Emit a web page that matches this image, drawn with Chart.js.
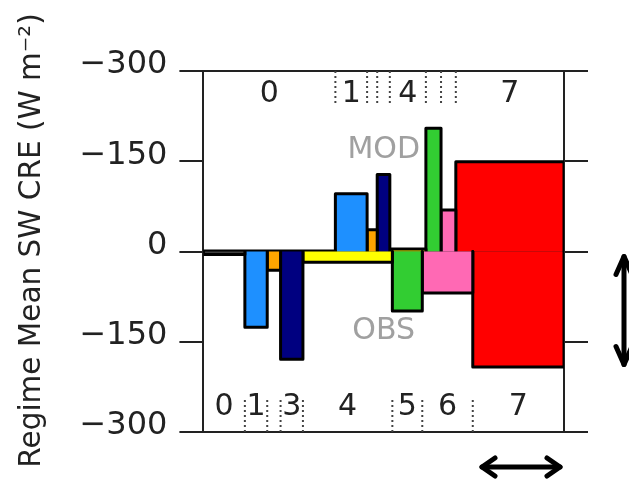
<!DOCTYPE html>
<html>
<head>
<meta charset="utf-8">
<title>Regime Mean SW CRE</title>
<script src="https://cdn.jsdelivr.net/npm/chart.js@4.4.0/dist/chart.umd.min.js"></script>
<style>
  html, body { margin: 0; padding: 0; background: #fff; }
  #wrap { width: 629px; height: 481px; }
</style>
</head>
<body>
<div id="wrap"><canvas id="swCre"></canvas></div>
<script>
// cloud regimes and their colours
const regimes = ["0", "1", "2", "3", "4", "5", "6", "7"]
const regimeColors = ["#404040", "#1e90ff", "#ffa500", "#000080", "#ffff00", "#32cd32", "#ff69b4", "#ff0000"]

// relative frequency of occurrence (%) -> box widths
const modFreq = [36.6, 8.8, 2.8, 3.5, 10.0, 4.2, 4.1, 30.0]
const obsFreq = [11.5, 6.2, 3.7, 6.2, 24.8, 8.3, 14.0, 25.3]

// regime mean SW cloud radiative effect (W m-2) -> box heights
const modCre = [-1, -96, -36, -128, -4, -205, -69, -149]
const obsCre = [-5, -126, -31, -179, -18, -99, -69, -192]

const yTicks = [-300, -150, 0, 150, 300]

const INK = "#222"
Chart.defaults.font.family = "DejaVu Sans"
Chart.defaults.color = INK

// cumulative frequency gives the left/right edge of every box
const edges = freq => {
  let acc = 0
  return [0, ...freq.map(f => (acc += f))]
}
const modEdges = edges(modFreq)
const obsEdges = edges(obsFreq)

// MOD boxes stand above zero, OBS boxes hang below it
const boxDatasets = (name, edgeList, cre, sign) => regimes.map((r, i) => {
  const h = sign * Math.abs(cre[i])
  const x0 = edgeList[i]
  const x1 = edgeList[i + 1]
  return {
    type: "line",
    label: name + " " + r,
    data: [{ x: x0, y: 0 }, { x: x0, y: h }, { x: x1, y: h }, { x: x1, y: 0 }],
    backgroundColor: regimeColors[i],
    borderColor: "#000",
    borderWidth: 3,
    borderJoinStyle: "round",
    borderCapStyle: "round",
    fill: "origin",
    pointRadius: 0,
    tension: 0,
  }
})

// dotted separators between neighbouring regimes, at the top and bottom of the panel
const sepDatasets = (edgeList, yFrom, yTo) => edgeList.slice(1, -1).map(e => ({
  type: "line",
  label: "sep",
  data: [{ x: e, y: yFrom }, { x: e, y: yTo }],
  borderColor: "#444",
  borderWidth: 2,
  borderDash: [2, 3],
  fill: false,
  pointRadius: 0,
}))

const drawArrowHead = (ctx, tx, ty, ax, ay, bx, by) => {
  ctx.beginPath()
  ctx.moveTo(ax, ay)
  ctx.lineTo(tx, ty)
  ctx.lineTo(bx, by)
  ctx.stroke()
}

// regime numbers, MOD/OBS captions and the two arrows
const annotations = {
  id: "annotations",
  afterDatasetsDraw(chart) {
    const { ctx, chartArea, scales: { x, y } } = chart
    ctx.save()
    ctx.font = "30px 'DejaVu Sans'"
    ctx.fillStyle = INK
    ctx.textAlign = "center"
    ctx.textBaseline = "middle"

    regimes.forEach((r, i) => {
      if (modFreq[i] >= 5) {
        ctx.fillText(r, x.getPixelForValue((modEdges[i] + modEdges[i + 1]) / 2), y.getPixelForValue(261))
      }
      if (obsFreq[i] >= 5) {
        ctx.fillText(r, x.getPixelForValue((obsEdges[i] + obsEdges[i + 1]) / 2), y.getPixelForValue(-258))
      }
    })

    ctx.fillStyle = "#a0a0a0"
    ctx.fillText("MOD", x.getPixelForValue(50), y.getPixelForValue(168))
    ctx.fillText("OBS", x.getPixelForValue(50), y.getPixelForValue(-132))

    // double arrows outside the panel
    ctx.strokeStyle = "#000"
    ctx.lineWidth = 5
    ctx.lineCap = "round"
    ctx.lineJoin = "round"
    const zero = y.getPixelForValue(0)
    const vx = chartArea.right + 60
    const vTop = zero + 5
    const vBot = zero + 113
    ctx.beginPath()
    ctx.moveTo(vx, vTop)
    ctx.lineTo(vx, vBot)
    ctx.stroke()
    drawArrowHead(ctx, vx, vTop, vx - 8, vTop + 18, vx + 8, vTop + 18)
    drawArrowHead(ctx, vx, vBot, vx - 8, vBot - 18, vx + 8, vBot - 18)

    const hy = chartArea.bottom + 35
    const hL = chartArea.right - 82
    const hR = chartArea.right - 4
    ctx.beginPath()
    ctx.moveTo(hL, hy)
    ctx.lineTo(hR, hy)
    ctx.stroke()
    drawArrowHead(ctx, hL, hy, hL + 13, hy - 9, hL + 13, hy + 9)
    drawArrowHead(ctx, hR, hy, hR - 13, hy - 9, hR - 13, hy + 9)
    ctx.restore()
  }
}

const frameAxis = (position, height) => ({
  type: "linear",
  position: position,
  min: 0,
  max: 100,
  ticks: { display: false },
  grid: { display: false, drawTicks: false },
  border: { display: true, color: INK, width: 2 },
  afterFit: scale => { scale.height = height },
})

const useTicks = scale => { scale.ticks = yTicks.map(v => ({ value: v })) }

new Chart(document.getElementById("swCre"), {
  type: "line",
  data: {
    datasets: [
      ...boxDatasets("OBS", obsEdges, obsCre, -1),
      ...boxDatasets("MOD", modEdges, modCre, 1),
      ...sepDatasets(modEdges, 300, 245),
      ...sepDatasets(obsEdges, -300, -245),
    ],
  },
  options: {
    responsive: true,
    maintainAspectRatio: false,
    animation: false,
    layout: { padding: 0 },
    scales: {
      x: frameAxis("bottom", 49),
      x2: frameAxis("top", 71),
      y: {
        position: "left",
        min: -300,
        max: 300,
        afterBuildTicks: useTicks,
        ticks: {
          callback: v => (v === 0 ? "0" : "\u2212" + Math.abs(v)),
          font: { size: 32 },
          color: INK,
          padding: 12,
          labelOffset: -6,
        },
        grid: {
          color: c => (c.tick && c.tick.value === 0 ? INK : "rgba(0,0,0,0)"),
          lineWidth: 2,
          tickLength: 24,
          tickColor: INK,
        },
        border: { color: INK, width: 2 },
        afterFit: scale => { scale.width = 153 },
      },
      y2: {
        position: "right",
        min: -300,
        max: 300,
        afterBuildTicks: useTicks,
        ticks: { display: false },
        grid: { drawOnChartArea: false, lineWidth: 2, tickLength: 24, tickColor: INK },
        border: { color: INK, width: 2 },
        afterFit: scale => { scale.width = 65 },
      },
    },
    plugins: {
      legend: { display: false },
      tooltip: { enabled: false },
      title: {
        display: true,
        position: "left",
        text: "Regime Mean SW CRE (W m\u207b\u00b2)",
        font: { size: 29.5, weight: "normal", lineHeight: 1.2 },
        color: INK,
        padding: { top: 15, bottom: 0 },
      },
    },
  },
  plugins: [annotations],
})
</script>
</body>
</html>
